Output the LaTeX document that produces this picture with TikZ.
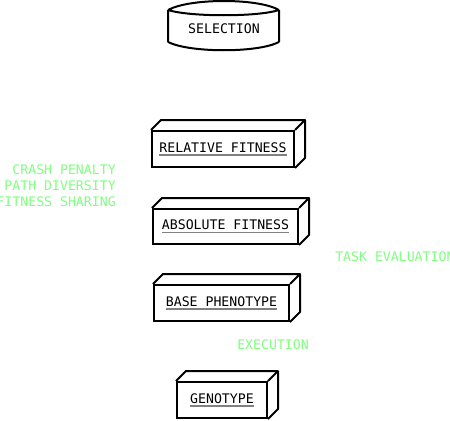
\documentclass[tikz,border=0pt]{standalone}
\usepackage{fontspec}
\setmonofont{DejaVu Sans Mono}
\usepackage{tikz}

\definecolor{edgelabel}{RGB}{128,255,128}

\newcommand{\grayul}[1]{\setbox0\hbox{#1}\rlap{\textcolor{gray}{\rule[-2.4pt]{\wd0}{0.9pt}}}\box0}

\begin{document}
\begin{tikzpicture}[
    x=0.75pt,y=-0.75pt,
    artifact/.style={draw,line width=1.5pt,inner sep=0pt,
      font=\fontsize{9.9}{12}\selectfont\ttfamily},
    store/.style={inner sep=0pt,font=\fontsize{9.9}{12}\selectfont\ttfamily},
    outline/.style={line width=1.5pt,line join=round},
    note/.style={text=edgelabel,inner sep=0pt,align=right,
      font=\fontsize{9.9}{12}\selectfont\ttfamily}]

  \def\d{7.5pt}

  \useasboundingbox (0,0) rectangle (450,421);

  % database
  \node[store] (sel) at (224,29) {SELECTION};
  \draw[outline]
    (168,10) .. controls (190,-2) and (258,-2) .. (279,10)
    (168,10) .. controls (190,17) and (258,17) .. (279,10)
    (168,10) -- (168,42)
    (279,10) -- (279,42)
    (168,42) .. controls (190,53) and (258,53) .. (279,42);

  % artifacts
  \node[artifact,minimum width=106.5pt,minimum height=27pt] (rel) at (223,149)
    {\grayul{RELATIVE FITNESS}};
  \node[artifact,minimum width=108.75pt,minimum height=26.25pt] (abs) at (225.5,226.5)
    {\grayul{ABSOLUTE FITNESS}};
  \node[artifact,minimum width=101.25pt,minimum height=27pt] (base) at (221.5,303)
    {\grayul{BASE PHENOTYPE}};
  \node[artifact,minimum width=67.5pt,minimum height=27pt] (geno) at (222,400)
    {\grayul{GENOTYPE}};

  \foreach \n in {rel,abs,base,geno}
    \draw[outline]
      (\n.north west) -- ++(\d,\d) -- ([shift={(\d,\d)}]\n.north east)
        -- ([shift={(\d,\d)}]\n.south east) -- (\n.south east)
      (\n.north east) -- ++(\d,\d);

  % labels
  \node[note,anchor=east] (fitnote) at (116,186)
    {CRASH PENALTY\\PATH DIVERSITY\\FITNESS SHARING};
  \node[note,anchor=west] (evalnote) at (335,257) {TASK EVALUATION};
  \node[note,anchor=west] (execnote) at (237,345) {EXECUTION};
\end{tikzpicture}
\end{document}
